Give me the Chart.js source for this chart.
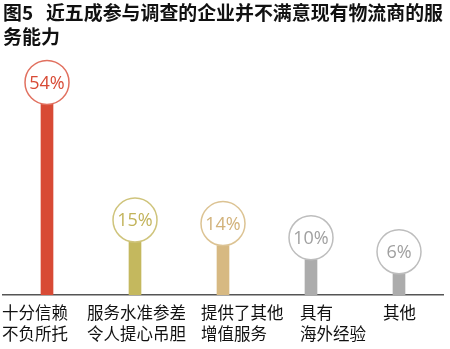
<!DOCTYPE html>
<html>
<head>
<meta charset="utf-8">
<script src="https://cdn.jsdelivr.net/npm/chart.js@4.4.1/dist/chart.umd.min.js"></script>
<style>
 html,body{margin:0;padding:0;background:#fff}
 #wrap{width:450px;height:349px}
</style>
</head>
<body>
<div id="wrap"><canvas id="c"></canvas></div>
<script>
const TITLE=['图5   近五成参与调查的企业并不满意现有物流商的服','务能力'];
const CATEGORIES=[['十分信赖','不负所托'],['服务水准参差','令人提心吊胆'],['提供了其他','增值服务'],['具有','海外经验'],['其他']];
const VALUES=[54,15,14,10,6];
const BAR_COLORS=['#d84a35','#c4b85e','#d7b982','#acacac','#acacac'];
const RING_COLORS=['#e1705f','#cfc47c','#dcc393','#bdbdbd','#bdbdbd'];
const TEXT_COLORS=['#d84a35','#c2b35a','#d2b27a','#a0a0a0','#a0a0a0'];
// where each category caption starts, relative to its bar
const LABEL_SHIFT=[-45,-48,-22,-11,-16];

// circle badge with the value sitting on top of each bar
const badges={
 id:'badges',
 afterDatasetsDraw(chart){
  const ctx=chart.ctx,r=22;
  chart.getDatasetMeta(0).data.forEach((bar,i)=>{
   const cx=bar.x,cy=bar.y-r;
   ctx.save();
   ctx.beginPath();ctx.arc(cx,cy,r,0,Math.PI*2);
   ctx.fillStyle='#fff';ctx.fill();
   ctx.lineWidth=1.5;ctx.strokeStyle=RING_COLORS[i];ctx.stroke();
   ctx.fillStyle=TEXT_COLORS[i];
   ctx.font='18px "Open Sans"';
   ctx.textAlign='center';ctx.textBaseline='middle';
   ctx.fillText(VALUES[i]+'%',cx,cy+1);
   ctx.restore();
  });
 }
};

// category captions under the axis, left aligned
const captions={
 id:'captions',
 afterDraw(chart){
  const ctx=chart.ctx,x=chart.scales.x,base=chart.chartArea.bottom;
  ctx.save();
  ctx.fillStyle='#111';
  ctx.font='16.5px "Noto Sans CJK SC"';
  ctx.textAlign='left';ctx.textBaseline='middle';
  CATEGORIES.forEach((lines,i)=>{
   const left=x.getPixelForTick(i)+LABEL_SHIFT[i];
   lines.forEach((t,j)=>ctx.fillText(t,left,base+18+j*21));
  });
  ctx.restore();
 }
};

new Chart(document.getElementById('c'),{
 type:'bar',
 data:{labels:CATEGORIES.map(l=>l.join('')),datasets:[{data:VALUES,backgroundColor:BAR_COLORS,barThickness:12,borderWidth:0}]},
 options:{
  responsive:true,maintainAspectRatio:false,animation:false,
  layout:{padding:{left:3,right:7,bottom:54,top:0}},
  plugins:{
   legend:{display:false},tooltip:{enabled:false},
   title:{display:true,text:TITLE,align:'start',color:'#111',
    font:{family:'"Noto Sans CJK SC"',size:19,weight:'bold',lineHeight:1.25},
    padding:{top:1,bottom:10}}
  },
  scales:{
   x:{
    grid:{display:false,drawTicks:false},
    border:{display:true,color:'#555',width:1.5},
    ticks:{display:false}
   },
   y:{display:false,min:0,max:67}
  }
 },
 plugins:[badges,captions]
});
</script>
</body>
</html>
